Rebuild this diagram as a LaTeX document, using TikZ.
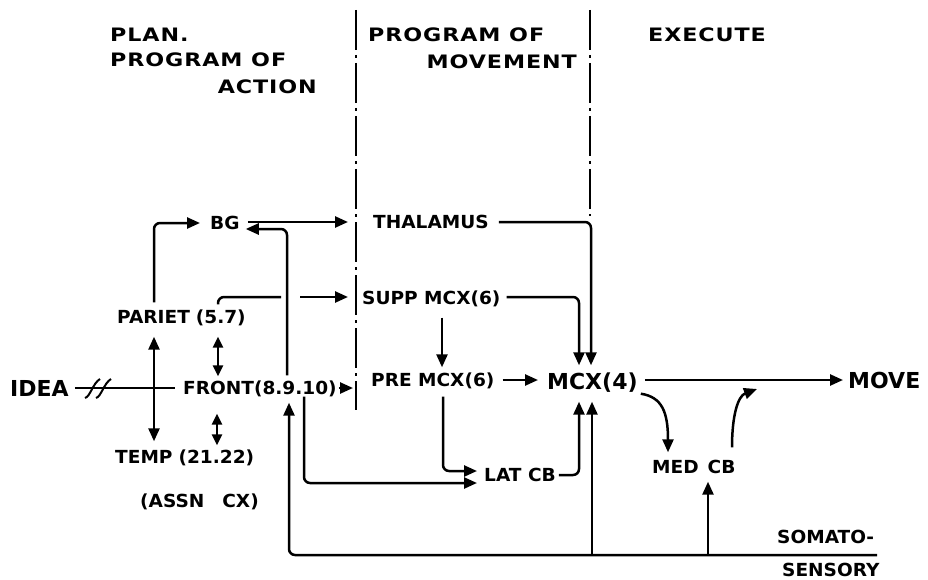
\documentclass[tikz,border=0pt]{standalone}
\usepackage{fontspec}
\usetikzlibrary{arrows.meta,calc}
\newfontfamily\bodyf[FakeStretch=1.03]{DejaVu Sans}
\newfontfamily\headf[FakeStretch=1.2,LetterSpace=5]{DejaVu Sans}
\newfontfamily\bigf{DejaVu Sans}
\tikzset{
  lbl/.style={inner sep=0pt, anchor=west, text height=13pt, text depth=0pt,
    font=\bodyf\bfseries\fontsize{18}{20}\selectfont},
  head/.style={inner sep=0pt, text height=13.5pt, text depth=0pt,
    font=\headf\bfseries\fontsize{18.5}{20}\selectfont},
  bigl/.style={inner sep=0pt, anchor=west, text height=17pt, text depth=0pt,
    font=\bigf\bfseries\fontsize{22}{25}\selectfont},
  bigb/.style={inner sep=0pt, anchor=west, text height=16pt, text depth=0pt,
    font=\bigf\bfseries\fontsize{22}{24}\selectfont},
  plain/.style={line width=2.5pt, rounded corners=6pt},
  conn/.style={plain, -{Triangle[length=13pt,width=11pt]}},
  dconn/.style={line width=2.5pt, {Triangle[length=11pt,width=10pt]}-{Triangle[length=11pt,width=10pt]}},
  divider/.style={line width=2.3pt, dash pattern=on 40pt off 5pt on 3pt off 5pt}
}
\begin{document}
\begin{tikzpicture}[x=1pt,y=-1pt]
\useasboundingbox (0,0) rectangle (928,580);
% headings
\node[head,anchor=west] (h1) at (110,35) {PLAN.};
\node[head,anchor=west] (h2) at (110,60) {PROGRAM OF};
\node[head,anchor=east] (h3) at (317,87) {ACTION};
\node[head,anchor=west] (h4) at (368,35) {PROGRAM OF};
\node[head,anchor=east] (h5) at (577,62) {MOVEMENT};
\node[head,anchor=west] (h6) at (648,35) {EXECUTE};
% dividers
\coordinate (dL) at (356,10);
\coordinate (dLb) at (356,410);
\coordinate (dR) at (590,10);
\coordinate (dRb) at (590,216);
\draw[divider] (dL) -- (dLb);
\draw[divider] (dR) -- (dRb);
% nodes
\node[bigb] (idea) at (10,388) {IDEA};
\node[lbl] (front) at (183,388) {FRONT(8.9.10)};
\node[lbl] (pariet) at (117,317) {PARIET\,\,(5.7)};
\node[lbl] (temp) at (115,457) {TEMP\,\,(21.22)};
\node[lbl] (assn) at (140,501) {(ASSN\quad CX)};
\node[lbl] (bg) at (210,223) {BG};
\node[lbl] (thal) at (373,222) {THALAMUS};
\node[lbl] (supp) at (362,298) {SUPP MCX(6)};
\node[lbl] (pre) at (371,380) {PRE MCX(6)};
\node[bigl] (mcx) at (547,381) {MCX(4)};
\node[lbl] (latcb) at (484,475) {LAT CB};
\node[lbl] (medcb) at (652,467) {MED\,\,\,CB};
\node[bigb] (move) at (848,380) {MOVE};
\node[lbl] (somato) at (777,537) {SOMATO-};
\node[lbl] (sensory) at (782,570) {SENSORY};
% IDEA line with break marks
\coordinate (j1) at (154,388);
\draw[line width=2pt] ($(idea.east)+(6,0)$) -- ($(front.west)+(-8,0)$);
\draw[line width=2pt] (85,398) .. controls (90,397) and (93,383) .. (100,379);
\draw[line width=2pt] (96,398) .. controls (101,397) and (104,383) .. (111,379);
\draw[conn] (j1) -- ($(pariet.south west)+(37,13)$);
\draw[conn] (j1) -- ($(temp.north west)+(39,-9)$);
% double arrows
\coordinate (a1) at ($(front.north west)+(35,-5)$);
\coordinate (a2) at ($(a1 |- pariet.south)+(0,13)$);
\coordinate (a3) at ($(a1 |- pariet.north)+(0,-6)$);
\draw[dconn] (a2) -- (a1);
\draw[dconn] ($(front.south west)+(34,19)$) -- ($(temp.north west)+(102,-5)$);
% to BG
\draw[conn] ($(pariet.north west)+(37,-8)$) |- ($(bg.west)+(-10,0)$);
\draw[conn] ($(bg.east)+(8,-1)$) -- ($(thal.west)+(-25,0)$);
\draw[conn] ($(front.north west)+(104,-6)$) |- ($(bg.east)+(6,6)$);
% (5.7) to SUPP with bridge gap
\coordinate (g1) at (281,297);
\coordinate (g2) at (300,297);
\draw[plain] (a3) |- (g1);
\draw[conn] (g2) -- ($(supp.west)+(-14,-1)$);
% front to divider
\draw[conn] ($(front.east)+(2,0)$) -- ($(front.east -| dL)+(-3,0)$);
% to MCX
\draw[conn] ($(thal.east)+(10,0)$) -| ($(mcx.north west)+(44,-7)$);
\draw[conn] ($(supp.east)+(6,-1)$) -| ($(mcx.north west)+(32,-7)$);
\draw[conn] ($(supp.south west)+(80,13)$) -- ($(pre.north west)+(71,-6)$);
\draw[conn] ($(pre.east)+(8,0)$) -- ($(mcx.west)+(-9,-1)$);
% to LAT CB
\draw[conn] ($(front.south west)+(121,2)$) |- ($(latcb.west)+(-7,8)$);
\draw[conn] ($(pre.south west)+(72,10)$) |- ($(latcb.west)+(-7,-4)$);
\draw[conn] ($(latcb.east)+(3,0)$) -| ($(mcx.south west)+(32,12)$);
% somatosensory
\coordinate (sR) at (877,555);
\coordinate (m2) at ($(mcx.south west)+(45,12)$);
\coordinate (m3) at ($(medcb.south west)+(56,8)$);
\draw[conn] (sR) -| ($(front.south west)+(106,8)$);
\draw[conn] (m2 |- sR) -- (m2);
\draw[conn] (m3 |- sR) -- (m3);
% execute
\draw[conn] ($(mcx.east)+(7,-1)$) -- ($(move.west)+(-5,0)$);
\draw[conn] ($(mcx.south east)+(3,4)$) .. controls (662,397) and (668,412) .. ($(medcb.north west)+(16,-8)$);
\draw[conn] ($(medcb.north west)+(80,-13)$) .. controls (732,415) and (738,396) .. (757,389);
\end{tikzpicture}
\end{document}
